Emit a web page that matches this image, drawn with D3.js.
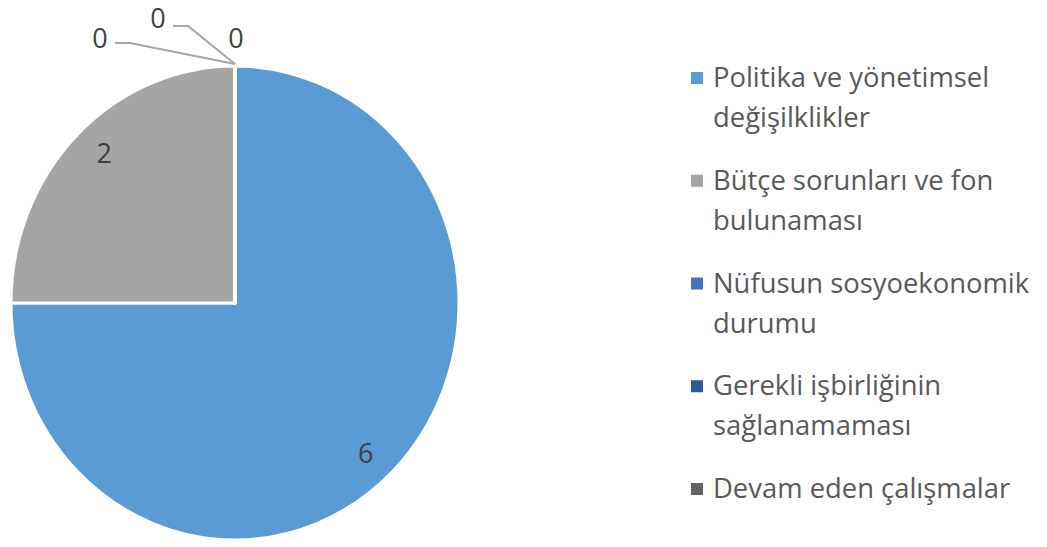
<!DOCTYPE html>
<html><head><meta charset="utf-8">
<script src="https://cdn.jsdelivr.net/npm/d3@7"></script>
<style>body{margin:0;background:#fff}svg{display:block}text{font-family:"Open Sans",Lato,sans-serif}</style>
</head><body>
<svg id="c" width="1047" height="547"></svg>
<script>
const categories = ["Politika ve yönetimsel değişilklikler","Bütçe sorunları ve fon bulunaması","Nüfusun sosyoekonomik durumu","Gerekli işbirliğinin sağlanamaması","Devam eden çalışmalar"];
const legendLines = [["Politika ve yönetimsel","değişilklikler"],["Bütçe sorunları ve fon","bulunaması"],["Nüfusun sosyoekonomik","durumu"],["Gerekli işbirliğinin","sağlanamaması"],["Devam eden çalışmalar"]];
const values = [6,2,0,0,0];
const colors = ["#5B9BD5","#A5A5A5","#4472C4","#255E91","#636363"];

const svg = d3.select("#c");
const cx = 235, cy = 303, r = 224, sy = 237/224;
const g = svg.append("g").attr("transform",`translate(${cx},${cy}) scale(1,${sy})`);
const pie = d3.pie().sort(null).value(d=>d)(values);
const arc = d3.arc().innerRadius(0).outerRadius(r);
g.selectAll("path").data(pie).join("path")
  .attr("d",arc).attr("fill",(d,i)=>colors[i])
  .attr("stroke","#fff").attr("stroke-width",3).attr("stroke-linejoin","round");

// labels
const labArc = d3.arc().innerRadius(r*0.86).outerRadius(r*0.86);
const lab = svg.append("g");
const zeroOffsets = [[-135,-28],[-77,-48],[1,-28]];
pie.forEach((d,i)=>{
  let x,y;
  if(d.value>0){
    const c = labArc.centroid(d);
    x = cx + c[0]*0.96; y = cy + c[1]*sy*1.04;
  } else {
    const k = i-2;
    x = cx + zeroOffsets[k][0]; y = cy - r*sy + zeroOffsets[k][1];
  }
  lab.append("text").attr("x",x).attr("y",y).attr("text-anchor","middle")
    .attr("dy","0.36em").attr("font-size",27).attr("fill","#404040").text(d.value);
});
// leader lines for first two zero labels
const topX = cx, topY = cy - r*sy - 2;
const leaders = [[[topX,topY],[130,43],[115,43]],[[topX,topY],[188,26],[173,26]]];
leaders.forEach(p=>{
  svg.append("path").attr("d",d3.line()(p)).attr("fill","none").attr("stroke","#A6A6A6").attr("stroke-width",2);
});

// legend
const lg = svg.append("g");
const base0 = 87, step = 102.75, lineH = 40;
legendLines.forEach((lines,i)=>{
  const b = base0 + i*step;
  lg.append("rect").attr("x",691).attr("y",b-15).attr("width",12).attr("height",12).attr("fill",colors[i]);
  lines.forEach((t,j)=>{
    lg.append("text").attr("x",713).attr("y",b+j*lineH).attr("font-size",27.4).attr("fill","#595959").text(t);
  });
});
</script>
</body></html>
